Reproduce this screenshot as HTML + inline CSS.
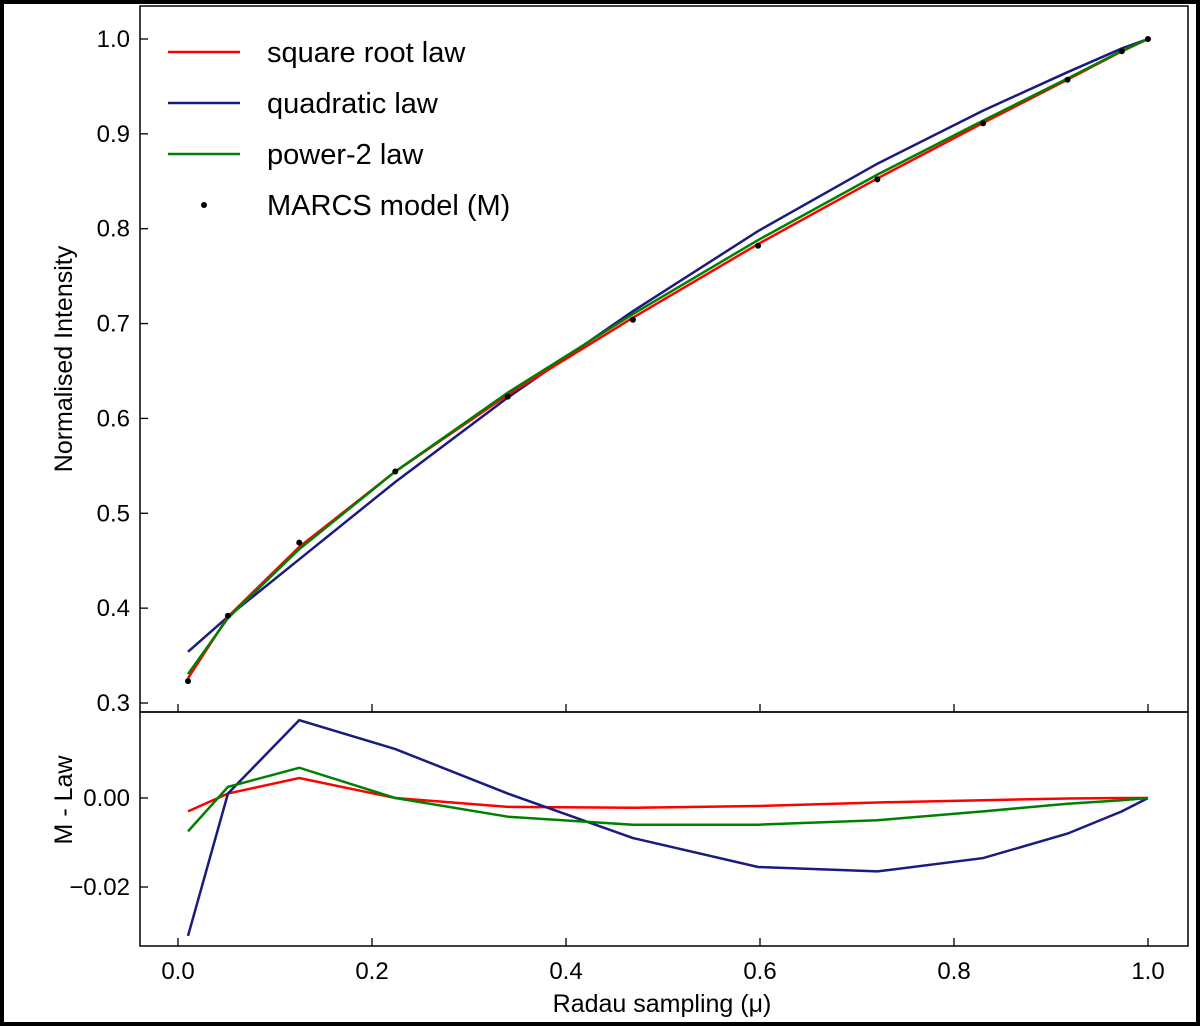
<!DOCTYPE html>
<html><head><meta charset="utf-8"><style>
body{margin:0;background:#000;}
#wrap{position:absolute;left:0;top:0;width:1200px;height:1026px;background:#000;}
svg{position:absolute;left:4px;top:4px;}
text{font-family:"Liberation Sans","DejaVu Sans",sans-serif;fill:#000;}
</style></head><body>
<div id="wrap">
<svg id="chart" width="1192" height="1018" viewBox="4 4 1192 1018">
<rect x="4" y="4" width="1192" height="1018" fill="#fff"/>
</svg>
</div>
<script>
const mu = [0.0103, 0.0515, 0.125, 0.224, 0.340, 0.469, 0.598, 0.721, 0.830, 0.917, 0.973, 1.0];
const marcs = [0.323, 0.392, 0.469, 0.544, 0.623, 0.704, 0.782, 0.852, 0.911, 0.957, 0.987, 1.0];
const resSqrt = [-0.003, 0.001, 0.0045, 0.0, -0.002, -0.0022, -0.0018, -0.001, -0.0005, -0.0001, 0, 0];
const resQuad = [-0.031, 0.001, 0.0175, 0.011, 0.001, -0.009, -0.0155, -0.0165, -0.0135, -0.008, -0.003, 0];
const resPow2 = [-0.0075, 0.0025, 0.0068, 0.0, -0.0042, -0.006, -0.006, -0.005, -0.003, -0.0013, -0.0005, 0];
const xTicks = [0.0, 0.2, 0.4, 0.6, 0.8, 1.0];
const yTicksTop = [0.3, 0.4, 0.5, 0.6, 0.7, 0.8, 0.9, 1.0];
const yTicksBot = [-0.02, 0.00];

const NS = "http://www.w3.org/2000/svg";
const svg = document.getElementById('chart');
const L = 140, R = 1188, T1 = 6, B1 = 712, B2 = 946;
const xs = v => 178 + 970 * v;
const ys1 = v => 703 - (v - 0.3) * 948.6;
const ys2 = v => 798 - v * 4450;
function el(tag, attrs, txt) {
  const e = document.createElementNS(NS, tag);
  for (const k in attrs) e.setAttribute(k, attrs[k]);
  if (txt !== undefined) e.textContent = txt;
  svg.appendChild(e);
  return e;
}
function poly(pts, color, name) {
  const e = el('polyline', {points: pts.map(p => p.join(',')).join(' '), fill: 'none', stroke: color, 'stroke-width': 2.5});
  
  
}
let f1 = el('rect', {x: L, y: T1, width: R - L, height: B1 - T1, fill: 'none', stroke: '#000', 'stroke-width': 1.5});


let f2 = el('rect', {x: L, y: B1, width: R - L, height: B2 - B1, fill: 'none', stroke: '#000', 'stroke-width': 1.5});


xTicks.forEach(v => {
  const x = xs(v);
  [[B1, B1 - 8], [B2, B2 - 8]].forEach(([a, b]) => {
    const t = el('line', {x1: x, y1: a, x2: x, y2: b, stroke: '#000', 'stroke-width': 1.3});
    
    
  });
  const lb = el('text', {x: x, y: 979, 'font-size': 24, 'text-anchor': 'middle'}, v.toFixed(1));
  
  
});
yTicksTop.forEach(v => {
  const y = ys1(v);
  const t = el('line', {x1: L, y1: y, x2: L + 8, y2: y, stroke: '#000', 'stroke-width': 1.3});
  
  
  const lb = el('text', {x: 130, y: y + 8, 'font-size': 24, 'text-anchor': 'end'}, v.toFixed(1));
  
  
});
yTicksBot.forEach(v => {
  const y = ys2(v);
  const t = el('line', {x1: L, y1: y, x2: L + 8, y2: y, stroke: '#000', 'stroke-width': 1.3});
  
  
  const lb = el('text', {x: 130, y: y + 8, 'font-size': 24, 'text-anchor': 'end'}, (v < 0 ? '\u2212' : '') + Math.abs(v).toFixed(2));
  
  
});
poly(mu.map((m, i) => [xs(m), ys1(marcs[i] - resQuad[i])]), '#1a1a80', 'quadratic-law-line');
poly(mu.map((m, i) => [xs(m), ys1(marcs[i] - resSqrt[i])]), '#ff0000', 'square-root-law-line');
poly(mu.map((m, i) => [xs(m), ys1(marcs[i] - resPow2[i])]), '#008000', 'power-2-law-line');
mu.forEach((m, i) => {
  const c = el('circle', {cx: xs(m), cy: ys1(marcs[i]), r: 3, fill: '#000'});
  
  
});
poly(mu.map((m, i) => [xs(m), ys2(resSqrt[i])]), '#ff0000', 'square-root-residual-line');
poly(mu.map((m, i) => [xs(m), ys2(resQuad[i])]), '#1a1a80', 'quadratic-residual-line');
poly(mu.map((m, i) => [xs(m), ys2(resPow2[i])]), '#008000', 'power-2-residual-line');
const leg = [['square root law', '#ff0000'], ['quadratic law', '#1a1a80'], ['power-2 law', '#008000'], ['MARCS model (M)', null]];
leg.forEach((d, i) => {
  const y = 52 + i * 51;
  if (d[1]) {
    const l = el('line', {x1: 168, y1: y, x2: 240, y2: y, stroke: d[1], 'stroke-width': 2.5});
    
    
  } else {
    const c = el('circle', {cx: 204, cy: y, r: 3, fill: '#000'});
    
    
  }
  const t = el('text', {x: 267, y: y + 10, 'font-size': 29}, d[0]);
  
  
});
const yt = el('text', {x: 0, y: 0, 'font-size': 25, 'text-anchor': 'middle', transform: 'translate(72,359) rotate(-90)'}, 'Normalised Intensity');


const yt2 = el('text', {x: 0, y: 0, 'font-size': 25, 'text-anchor': 'middle', transform: 'translate(72,800) rotate(-90)'}, 'M - Law');


const xt = el('text', {x: 662, y: 1012, 'font-size': 25, 'text-anchor': 'middle'}, 'Radau sampling (\u03bc)');


</script>
</body></html>
